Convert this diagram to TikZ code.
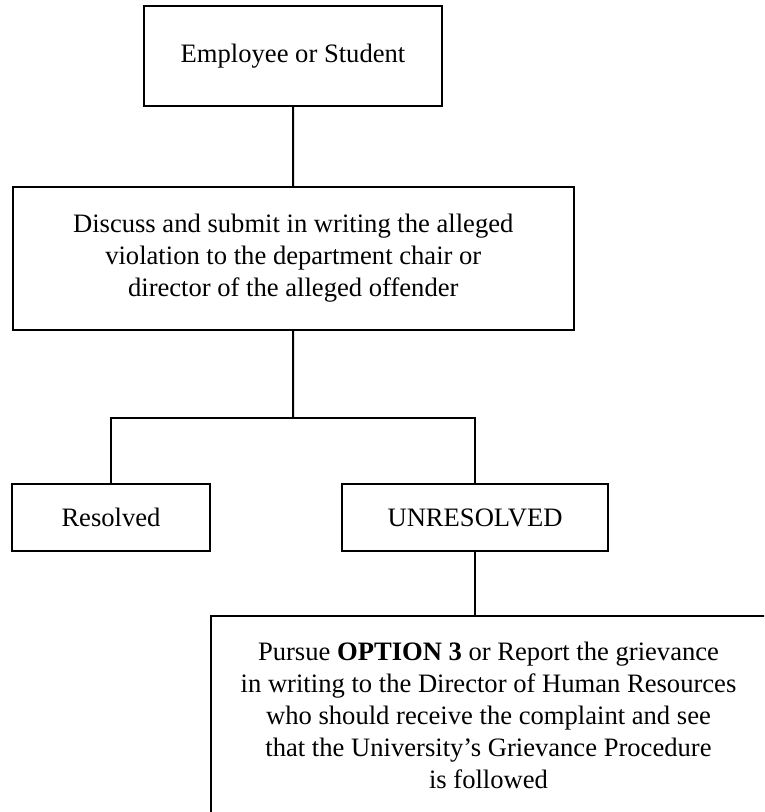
\documentclass[tikz,border=0pt]{standalone}
\usepackage{fontspec}
\setmainfont{Liberation Serif}
\usetikzlibrary{positioning}

\begin{document}
\begin{tikzpicture}[x=0.5pt, y=-0.5pt,
    box/.style={rectangle, draw, line width=1pt, align=center, inner sep=0pt,
        font=\fontsize{13.3}{16}\selectfont},
    link/.style={line width=1pt}]

    \useasboundingbox (0,0) rectangle (764,812);
    \clip (0,0) rectangle (764,812);

    % Boxes
    \node[box, minimum width=149pt, minimum height=50pt] (employee) at (293,56) {Employee or Student};
    \node[box, minimum width=280.75pt, minimum height=71.5pt] (discuss) at (293.25,258.5)
        {Discuss and submit in writing the alleged\\violation to the department chair or\\director of the alleged offender};
    \node[box, minimum width=99pt, minimum height=33.5pt] (resolved) at (111,517.5) {Resolved};
    \node[box, minimum width=133pt, minimum height=33.5pt] (unresolved) at (475,517.5) {UNRESOLVED};
    \node[box, minimum width=277.5pt, minimum height=99pt] (report) at (488.5,715)
        {Pursue \textbf{OPTION 3} or Report the grievance\\in writing to the Director of Human Resources\\who should receive the complaint and see\\that the University’s Grievance Procedure\\is followed};

    % Connectors
    \coordinate (split) at (293,418);
    \draw[link] (employee) -- (discuss);
    \draw[link] (discuss) -- (split);
    \draw[link] (resolved) |- (split) -| (unresolved);
    \draw[link] (unresolved) -- (report.north -| unresolved);

\end{tikzpicture}
\end{document}
